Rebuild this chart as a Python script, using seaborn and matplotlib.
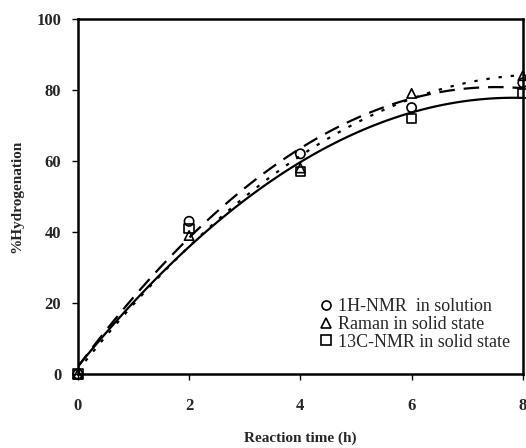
import numpy as np
import pandas as pd
import matplotlib
matplotlib.use("Agg")
import matplotlib.pyplot as plt
import seaborn as sns

# Reaction time (h) and % hydrogenation measured by three methods
time_h = [0, 2, 4, 6, 8]
h1_nmr_solution = [0, 43, 62, 75, 82]
raman_solid = [0, 39, 58, 79, 84]
c13_nmr_solid = [0, 41, 57, 72, 79]

series_names = ["1H-NMR  in solution", "Raman in solid state", "13C-NMR in solid state"]
series_values = [h1_nmr_solution, raman_solid, c13_nmr_solid]
series_markers = ["o", "^", "s"]
series_lines = [(0, (7, 4)), (0, (1.5, 4)), "-"]

x_ticks = [0, 2, 4, 6, 8]
y_ticks = [0, 20, 40, 60, 80, 100]

sns.set_theme(style="white")
plt.rcParams["font.family"] = ["Liberation Serif", "DejaVu Serif"]

fig = plt.figure(figsize=(5.26, 4.48), dpi=100)
ax = fig.add_axes([0.148, 0.165, 0.846, 0.793])

frames = []
for name, vals in zip(series_names, series_values):
    frames.append(pd.DataFrame({"time": time_h, "hyd": vals, "method": name}))
df = pd.concat(frames, ignore_index=True)

# Second-order trend line for each method
for name, ls in zip(series_names, series_lines):
    sub = df[df["method"] == name]
    sns.regplot(data=sub, x="time", y="hyd", order=2, ci=None, scatter=False,
                ax=ax, color="black",
                line_kws=dict(linestyle=ls, linewidth=1.6))

# Open markers for the measured points
handles = []
for name, mk in zip(series_names, series_markers):
    sub = df[df["method"] == name]
    sns.scatterplot(data=sub, x="time", y="hyd", marker=mk, s=45,
                    facecolor="none", edgecolor="black", linewidth=1.2,
                    ax=ax, clip_on=False, zorder=5)
    handles.append(plt.Line2D([], [], marker=mk, linestyle="none",
                              markerfacecolor="none", markeredgecolor="black",
                              markersize=6.5, markeredgewidth=1.2, label=name))

ax.set_xlim(0, 8)
ax.set_ylim(0, 100)
ax.set_xticks(x_ticks)
ax.set_yticks(y_ticks)
ax.set_xticklabels([str(t) for t in x_ticks], fontsize=12, fontweight="bold")
ax.set_yticklabels([str(t) for t in y_ticks], fontsize=12, fontweight="bold")
ax.tick_params(axis="x", direction="out", length=4, width=1, color="black",
               bottom=True, pad=13)
ax.tick_params(axis="y", direction="out", length=4, width=1, color="black",
               left=True, pad=8)
ax.set_xlabel("Reaction time (h)", fontsize=11, fontweight="bold", labelpad=13)
ax.set_ylabel("%Hydrogenation", fontsize=11, fontweight="bold", labelpad=9)

for sp in ax.spines.values():
    sp.set_visible(True)
    sp.set_color("black")
    sp.set_linewidth(1.8)

ax.legend(handles=handles, loc="lower right", frameon=False, fontsize=13,
          handlelength=0.6, handletextpad=0.35, labelspacing=0.05,
          borderaxespad=0.3, bbox_to_anchor=(1.0, 0.03))

fig.savefig("out.png", dpi=100)
